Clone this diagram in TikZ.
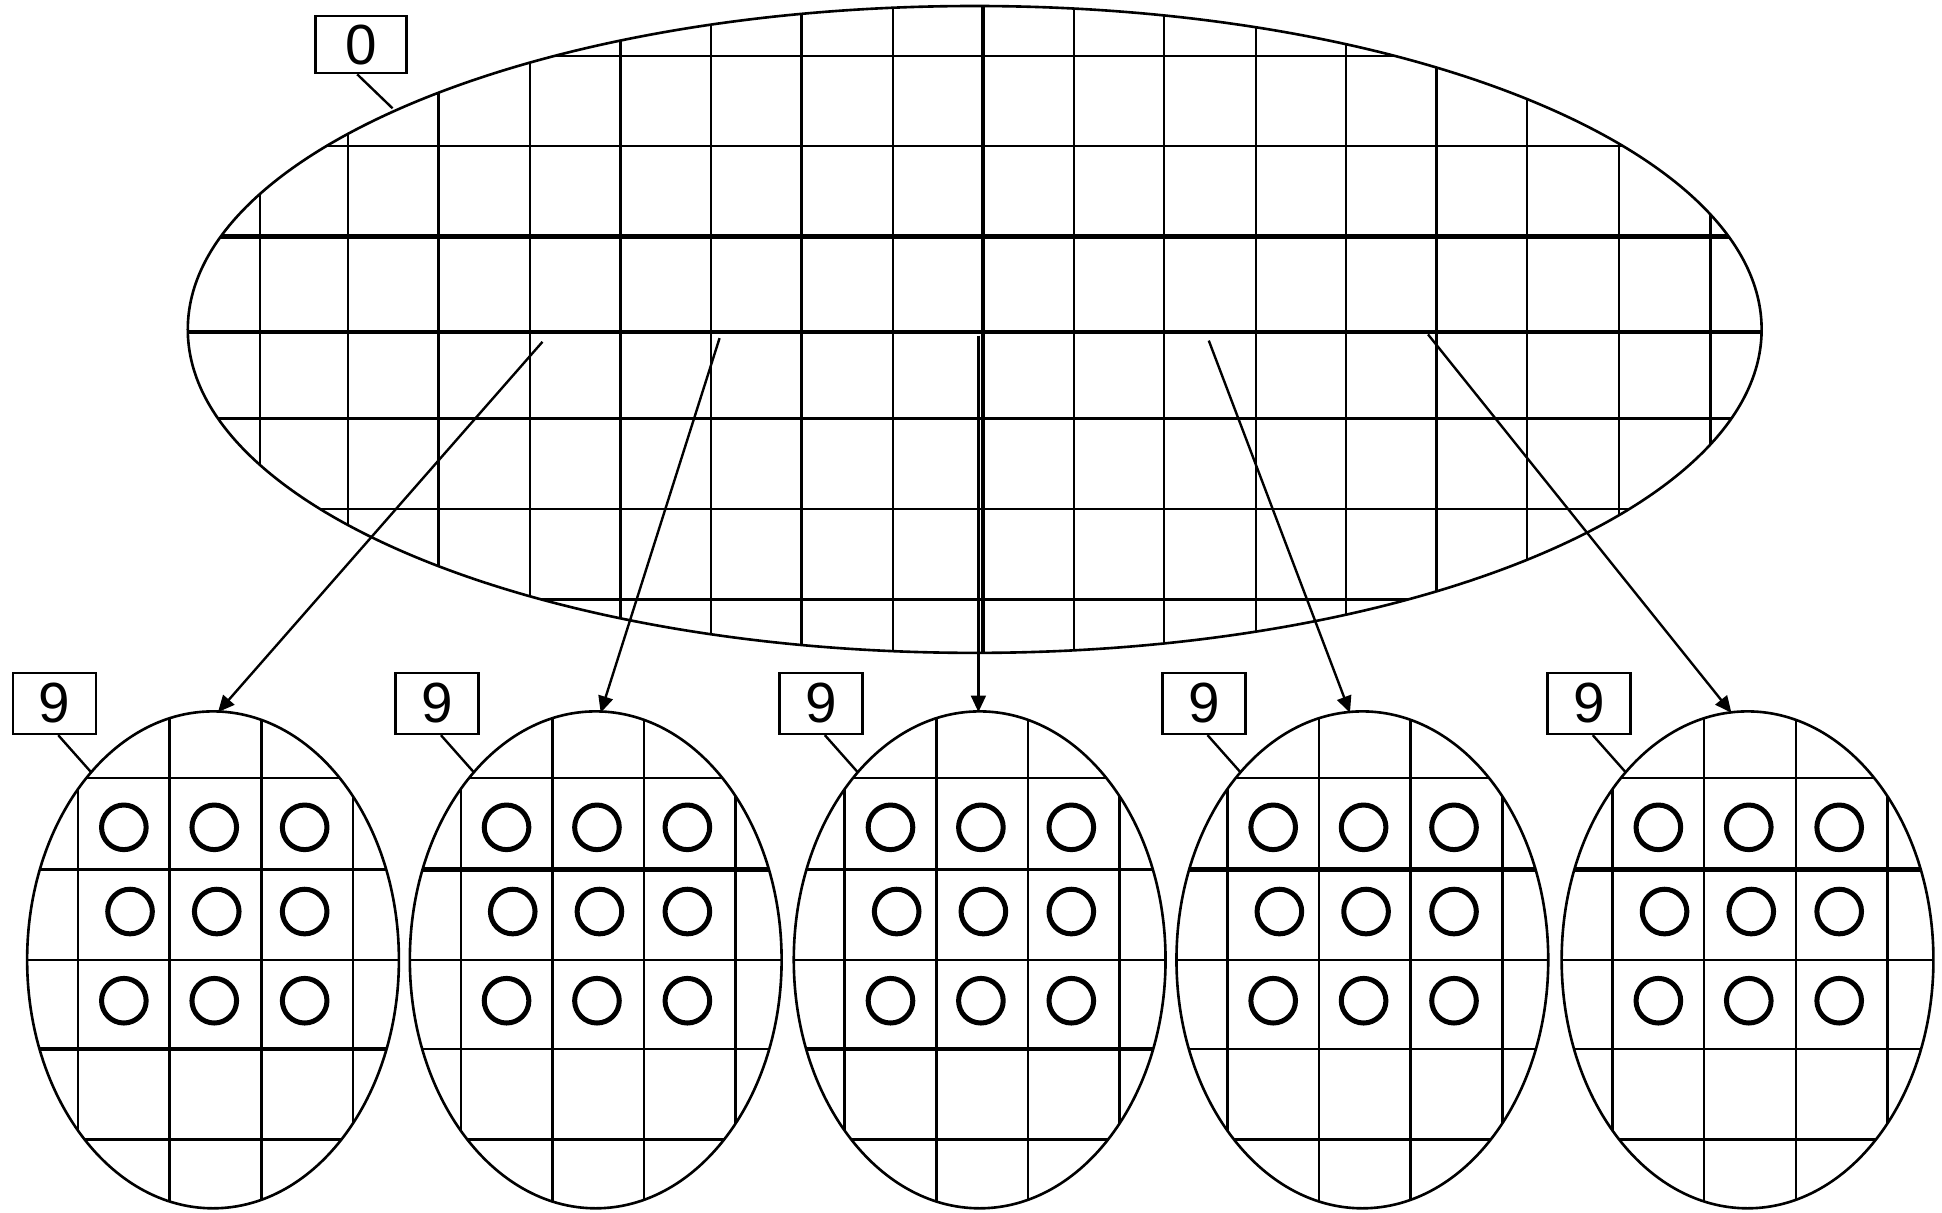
\documentclass[tikz,border=0pt]{standalone}
\usepackage{fontspec}
\setmainfont{Liberation Sans}
\usetikzlibrary{shapes.geometric,arrows.meta}
\tikzset{
  gridline/.style={line width=0.55pt},
  gridthick/.style={line width=0.95pt},
  outline/.style={draw,ellipse,inner sep=0pt,line width=0.6pt},
  lbl/.style={draw,line width=0.6pt,inner sep=0pt,minimum width=0.67cm,minimum height=0.49cm,font=\fontsize{13}{15}\selectfont},
  leader/.style={line width=0.55pt},
  dot/.style={line width=1.15pt},
  conn/.style={line width=0.55pt,-{Triangle[length=3.8pt,width=3.4pt]}}
}
\begin{document}
\begin{tikzpicture}[x=0.01cm,y=-0.01cm]
\useasboundingbox (0,0) rectangle (1568,979);
% big wafer grid
\begin{scope}
  \clip (787,266) ellipse [x radius=6.35cm, y radius=2.61cm];
  \foreach \x in {210,281,354,428,501,574,647,721,867,940,1014,1087,1160,1233,1307,1381}
    \draw[gridline] (\x,0) -- (\x,540);
  \draw[gridthick] (794,0) -- (794,540);
  \foreach \y in {45,118,338,411,484}
    \draw[gridline] (140,\y) -- (1440,\y);
  \draw[gridthick] (140,191) -- (1440,191);
  \draw[gridline,line width=0.75pt] (140,268) -- (1440,268);
\end{scope}
\node[outline,minimum width=12.7cm,minimum height=5.22cm] (big) at (787,266) {};
\node[lbl,minimum width=0.73cm,minimum height=0.46cm] (b0) at (291.5,36) {0};
\coordinate (t0) at (317,87.5);
\draw[leader] ([xshift=-0.03cm]b0.south) -- (t0);
% small dies
\foreach \i/\cx/\th/\tn in {1/172/72/-73, 2/481/-73/72, 3/791/72/-73, 4/1100/-73/72, 5/1411/-73/72} {
  \begin{scope}
    \clip (\cx,775) ellipse [x radius=1.5cm, y radius=2.005cm];
    \foreach \dx in {-109,-35,39,113}
      \draw[gridline] (\cx+\dx,560) -- (\cx+\dx,990);
    \foreach \dy in {-147,0,145}
      \draw[gridline] (\cx-160,775+\dy) -- (\cx+160,775+\dy);
    \draw[gridline] (\cx-160,775+\tn) -- (\cx+160,775+\tn);
    \draw[gridthick] (\cx-160,775+\th) -- (\cx+160,775+\th);
  \end{scope}
  \node[outline,minimum width=3cm,minimum height=4.01cm] (s\i) at (\cx,775) {};
  \foreach \dx/\dy in {-72/-107,1/-107,74/-107,-67/-39,3/-39,74/-39,-72/33,1/33,74/33}
    \draw[dot] (\cx+\dx,775+\dy) circle [radius=0.18cm];
  \node[lbl] (b\i) at (\cx-128,568) {9};
  \coordinate (t\i) at (\cx-98,624);
  \draw[leader] ([xshift=0.03cm]b\i.south) -- (t\i);
}
% arrows
\coordinate (a1) at (438,276);
\coordinate (a2) at (581,273);
\coordinate (a3) at (790,271);
\coordinate (a4) at (976,275);
\coordinate (a5) at (1153,270);
\coordinate (e1) at (176,575);
\coordinate (e2) at (485,575.5);
\coordinate (e3) at (790,575);
\coordinate (e4) at (1090,575.5);
\coordinate (e5) at (1398,575.5);
\foreach \k in {1,...,5}
  \draw[conn] (a\k) -- (e\k);
\end{tikzpicture}
\end{document}
